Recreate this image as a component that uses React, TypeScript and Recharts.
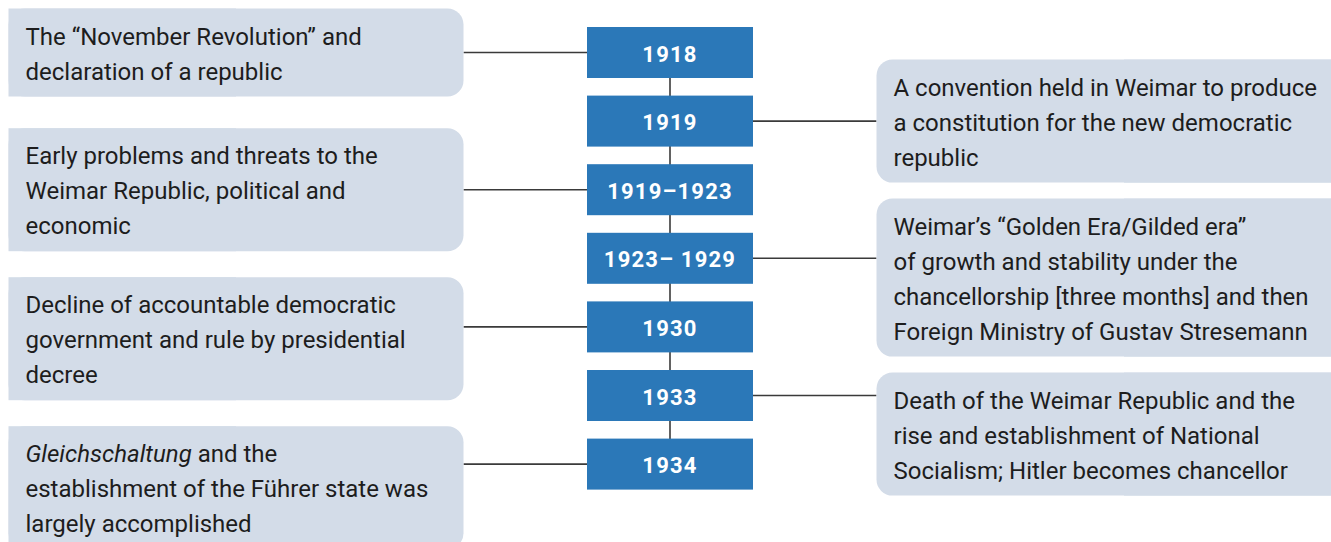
import React from "react";
import { ScatterChart, Scatter, XAxis, YAxis } from "recharts";

// timeline data
const years = ["1918", "1919", "1919–1923", "1923– 1929", "1930", "1933", "1934"];
const sides = ["left", "right", "left", "right", "left", "right", "left"];
const descriptions = [
	["The “November Revolution” and", "declaration of a republic"],
	["A convention held in Weimar to produce", "a constitution for the new democratic", "republic"],
	["Early problems and threats to the", "Weimar Republic, political and", "economic"],
	[
		"Weimar’s “Golden Era/Gilded era”",
		"of growth and stability under the",
		"chancellorship [three months] and then",
		"Foreign Ministry of Gustav Stresemann",
	],
	["Decline of accountable democratic", "government and rule by presidential", "decree"],
	["Death of the Weimar Republic and the", "rise and establishment of National", "Socialism; Hitler becomes chancellor"],
	["Gleichschaltung and the", "establishment of the Führer state was", "largely accomplished"],
];
const italicTerms = ["Gleichschaltung"];

const W = 1331;
const H = 542;
const PX_X = 434;
const CENTER_X = 670;
const X0 = -CENTER_X / PX_X;
const X1 = (W - CENTER_X) / PX_X;
const PX_Y = 68.6;
const FIRST_Y = 52.5;
const Y0 = -FIRST_Y / PX_Y;
const Y1 = (H - FIRST_Y) / PX_Y;

const YEAR_W = 166;
const YEAR_H = 51;
const LINE_H = 35;
const BOX_HALF = 227.5;
const BLUE = "#2b78b8";
const PALE = "#d3dce8";
const INK = "#1d1d1d";
const WIRE = "#3a3a3a";
const FONT = "Roboto, 'Noto Sans', sans-serif";

const yearData = years.map((label, i) => ({ x: 0, slot: i, label }));

// stack the text boxes on each side so they don't collide
const boxGap: Record<string, number> = { left: 26, right: 16 };
const lastBottom: Record<string, number> = { left: -Infinity, right: -Infinity };
const descData = descriptions.map((lines, i) => {
	const side = sides[i];
	const cyPx = ((i - Y0) / (Y1 - Y0)) * H;
	const h = lines.length * LINE_H + 18;
	const top = Math.max(cyPx - h / 2, lastBottom[side] + boxGap[side]);
	lastBottom[side] = top + h;
	return { x: side === "left" ? -1 : 1, slot: i, side, lines, dy: top - cyPx };
});

const renderLine = (line: string) => {
	const re = new RegExp(`(${italicTerms.join("|")})`);
	return line
		.split(re)
		.filter((p) => p.length > 0)
		.map((part, k) => (
			<tspan key={k} fontStyle={italicTerms.includes(part) ? "italic" : "normal"}>
				{part}
			</tspan>
		));
};

const YearBox = (props: any) => {
	const { cx, cy, payload } = props;
	return (
		<g>
			<rect x={cx - YEAR_W / 2} y={cy - YEAR_H / 2} width={YEAR_W} height={YEAR_H} fill={BLUE} />
			<text
				x={cx}
				y={cy + 9}
				textAnchor="middle"
				fill="#fff"
				fontFamily={FONT}
				fontWeight={700}
				fontSize={22}
				letterSpacing={1.2}
			>
				{payload.label}
			</text>
		</g>
	);
};

const DescBox = (props: any) => {
	const { cx, cy, payload } = props;
	const left = payload.side === "left";
	const h = payload.lines.length * LINE_H + 18;
	const top = cy + payload.dy;
	const bx = cx - BOX_HALF;
	const bw = left ? BOX_HALF * 2 : BOX_HALF * 2 + 40;
	const boxEdge = left ? bx + bw : bx;
	const yearEdge = left ? cx + PX_X - YEAR_W / 2 : cx - PX_X + YEAR_W / 2;
	return (
		<g>
			<line x1={boxEdge} x2={yearEdge} y1={cy} y2={cy} stroke={WIRE} strokeWidth={1.6} />
			<rect x={bx} y={top} width={bw} height={h} rx={16} ry={16} fill={PALE} />
			<rect x={left ? bx : bx + bw / 2} y={top} width={bw / 2} height={h} fill={PALE} />
			<text x={bx + 17} y={top + 36} fill={INK} fontFamily={FONT} fontSize={24}>
				{payload.lines.map((line: string, i: number) => (
					<tspan key={i} x={bx + 17} y={top + 36 + i * LINE_H}>
						{renderLine(line)}
					</tspan>
				))}
			</text>
		</g>
	);
};

export default function App() {
	return (
		<div style={{ position: "absolute", left: 0, top: 0, background: "#fff" }}>
			<ScatterChart width={W} height={H} margin={{ top: 0, right: 0, bottom: 0, left: 0 }}>
				<XAxis type="number" dataKey="x" domain={[X0, X1]} hide allowDataOverflow />
				<YAxis type="number" dataKey="slot" domain={[Y0, Y1]} reversed hide allowDataOverflow />
				<Scatter data={descData} shape={<DescBox />} isAnimationActive={false} />
				<Scatter
					data={yearData}
					shape={<YearBox />}
					line={{ stroke: WIRE, strokeWidth: 1.6 }}
					lineType="joint"
					isAnimationActive={false}
				/>
			</ScatterChart>
		</div>
	);
}
